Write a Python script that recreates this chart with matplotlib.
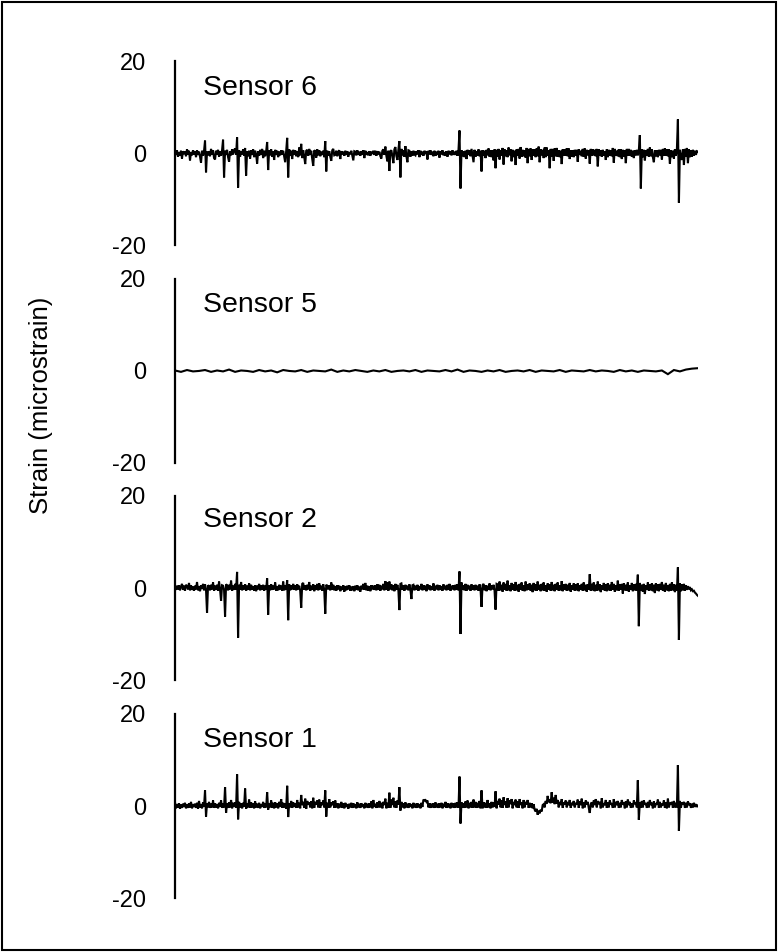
import matplotlib
matplotlib.use("Agg")
import matplotlib.pyplot as plt
from matplotlib.patches import Rectangle
import numpy as np

plt.rcParams['font.family'] = ['Liberation Sans', 'DejaVu Sans']

# strain records (microstrain), one sample list per sensor
sensor6 = [
    0.3, -0.4, 0.6, -0.8, 0.2, -0.6, 0.5, -1.2, 0.4, -0.2, 0.3, -0.7, 0.8, -0.3, 0.5, -1.6, 0.2, -0.5, 0.6, -0.3,
    0.4, -0.9, 0.6, -0.4, 0.3, -0.8, -2.1, 0.5, -0.6, 0.4, 2.7, -4.2, 0.3, -0.5, 0.4, -0.7, 0.9, -0.3, 0.6, -1.1,
    -1.4, 0.5, -0.3, 0.7, -0.8, 0.4, -0.6, 0.6, 2.9, -5.3, 0.5, -0.4, 0.7, -0.9, -1.9, 0.4, -0.5, 0.8, -0.3, 0.6,
    1.0, -0.4, 3.4, -7.5, 0.6, -0.8, 0.4, -0.3, 0.8, -0.6, 1.1, -4.9, 0.4, -0.7, 0.5, -1.2, 0.6, -0.4, 0.8, -0.9,
    0.5, -0.3, -2.3, 0.4, -0.6, 0.7, -0.4, 0.9, -1.1, 0.5, -0.7, 0.3, 2.4, -3.7, 0.6, -0.5, 0.8, -0.8, 0.4, -1.5,
    0.7, -0.4, 0.5, -0.9, 0.3, -0.5, 0.6, -0.3, 0.5, -0.8, -2.0, 0.4, 3.3, -5.3, 0.8, -0.6, 0.5, -1.3, 0.7, -0.4,
    0.6, -0.7, 0.4, -0.9, 1.2, -0.5, 2.0, -1.1, 0.6, -0.8, -2.4, 0.5, 0.7, -0.6, 0.9, -0.4, 0.5, -1.3, -2.8, 0.6,
    0.4, -1.0, 0.8, -0.5, 0.6, -0.7, 0.3, -0.4, 0.5, -0.9, 2.6, -4.0, 0.5, -0.6, 0.4, -0.8, -1.7, 0.6, 0.9, -0.5,
    -0.4, 0.5, -0.7, 0.3, 0.6, -1.3, 0.4, -0.3, 0.3, -0.6, 0.5, -0.4, 0.4, -0.8, 0.2, -0.3, 0.5, -0.6, -1.6, 0.4,
    0.3, -0.5, 0.6, -0.4, 0.3, -0.6, 0.4, -0.3, 0.6, -1.1, 0.5, -0.4, 0.2, -0.5, 0.4, -0.6, 0.3, -0.2, 0.5, -0.4,
    0.5, -0.6, 0.4, -0.3, 0.3, -0.7, -1.2, 0.5, 0.8, -0.4, 1.4, -0.6, -1.8, 0.5, -3.9, 0.4, 0.6, -0.7, -2.2, 0.8,
    1.3, -0.6, -1.5, 0.7, 2.6, -5.3, 0.9, -0.5, 0.6, -0.8, 1.5, -0.7, -2.0, 0.6, 0.5, -0.8, 0.4, -0.6, 0.5, -0.3,
    -0.5, 0.4, -0.3, 0.6, -0.9, 0.5, -0.4, 0.3, -0.6, 0.5, -0.2, 0.4, -1.4, 0.5, -0.3, 0.6, -0.4, 0.3, -0.7, 0.5,
    -0.6, 0.3, -0.4, 0.5, -1.0, 0.4, -0.3, 0.6, -0.5, 0.2, -0.6, 0.4, -0.8, 0.5, -0.3, 0.4, -0.5, 0.6, -0.4, 0.3,
    -0.4, 0.5, -0.6, 0.7, 4.9, -7.7, 0.6, -0.7, 0.4, -0.9, 0.5, -1.3, 0.7, -0.4, 0.6, -0.7, 0.9, -0.5, -2.0, 0.7,
    -0.8, 0.4, -0.6, 0.8, -0.7, 0.5, -4.0, 0.6, -0.6, 0.5, -1.1, 0.7, -0.5, 1.0, -0.8, 0.6, -0.9, 0.6, -1.6, 0.8,
    -3.3, 0.7, -0.8, 0.9, -1.4, 0.6, -0.6, 1.1, -2.5, 0.8, -0.7, 0.6, -0.9, 1.2, -0.5, 0.8, -1.8, 0.7, -0.9, 0.5,
    -2.6, 0.8, -0.6, 0.9, -1.2, 1.3, -0.8, 0.7, -0.7, 0.6, -1.0, 1.1, -2.2, 0.9, -0.7, 1.0, -1.5, 0.8, -0.6, 0.8,
    -0.9, 1.0, -0.7, 1.4, -2.0, 0.8, -0.5, 0.7, -1.1, 1.2, -0.9, 1.2, -0.6, 0.6, -3.3, 0.9, -0.8, 0.9, -1.7, 1.0,
    -0.7, 1.1, -0.8, 0.6, -0.9, 0.5, -2.4, 0.8, -0.5, 0.8, -0.6, 1.0, -0.7, 1.0, -1.3, 0.6, -0.8, 0.6, -0.9, 0.7,
    -0.6, 0.7, -1.9, 0.8, -0.4, 0.5, -0.7, 0.9, -0.8, 1.0, -1.2, 0.7, -0.5, 0.6, -2.3, 0.9, -0.6, 0.8, -0.5, 0.7,
    -0.7, 0.9, -2.9, 0.8, -0.5, 0.6, -0.8, 0.7, -0.6, 0.4, -1.5, 0.8, -0.9, 0.7, -0.6, 0.6, -0.7, 1.1, -2.1, 0.9,
    -0.6, 0.5, -0.7, 0.8, -0.9, 0.8, -1.3, 0.7, -0.8, 0.6, -2.2, 0.9, -0.6, 0.9, -0.6, 0.7, -0.8, 0.5, -1.1, 0.6,
    -0.5, 0.7, -0.5, 0.6, 3.9, -7.7, 0.8, -0.9, 0.7, -1.6, 0.6, -0.6, 0.9, -0.8, 1.2, -0.7, 0.8, -0.9, -2.0, 0.6,
    -0.7, 0.6, -0.9, 0.7, -0.5, 0.7, -1.4, 0.9, -0.6, 1.0, -0.6, 0.8, -0.7, 0.8, -2.3, 0.6, -0.9, 0.5, -1.2, 0.8,
    -0.6, 0.9, 7.3, -10.8, 0.7, -0.8, -1.5, 0.8, -2.6, 0.9, -0.7, 1.1, -2.2, 0.8, -0.9, 0.6, -0.8, 0.7, -0.6, 0.5,
    -0.4, 0.4, 0.3,
]

sensor5 = [
    0.1, -0.2, 0.2, -0.1, 0.0, 0.2, -0.2, 0.1, -0.1, 0.3,
    -0.2, 0.1, 0.0, -0.2, 0.2, -0.1, 0.1, -0.3, 0.2, 0.0,
    -0.1, 0.2, -0.2, 0.1, 0.0, -0.1, 0.3, -0.2, 0.1, -0.1,
    0.2, 0.0, -0.2, 0.1, -0.1, 0.2, -0.2, 0.0, 0.1, -0.1,
    0.2, -0.2, 0.1, 0.0, -0.1, 0.2, -0.1, 0.3, -0.2, 0.1,
    0.0, -0.2, 0.1, -0.1, 0.2, -0.2, 0.0, 0.1, -0.1, 0.2,
    -0.2, 0.1, 0.0, -0.1, 0.2, -0.2, 0.1, 0.0, -0.1, 0.2,
    -0.1, 0.1, 0.0, -0.2, 0.2, -0.1, 0.1, -0.2, 0.1, 0.0,
    -0.1, 0.1, -0.7, 0.2, -0.1, 0.3, 0.5, 0.6,
]

sensor2 = [
    0.2, -0.4, 0.5, -0.3, 0.6, -0.5, 0.3, 0.9, -0.4, 0.5, -0.6, 0.7, 0.4, -0.3, 1.1, -0.5, 0.6, -0.4, 0.3, -0.6,
    0.5, -0.3, 1.3, -0.5, 0.4, -0.7, 0.6, -0.2, 0.9, -0.5, 0.8, -0.4, -5.4, 0.6, 0.4, -0.5, 0.7, -0.3, 1.2, -0.6,
    0.5, -0.4, 0.7, -0.6, 1.4, -0.3, -2.8, 0.6, 0.5, -0.4, -6.2, 0.8, 0.6, -0.5, 0.7, -0.3, 1.6, -0.6, 0.5, -0.4,
    0.9, -0.3, 3.5, -10.8, 0.7, -0.4, 1.3, -0.5, 0.6, -0.3, 0.8, -0.6, 0.5, -0.4, 1.0, -0.5, 0.7, -0.3, 0.4, -0.6,
    0.6, -0.7, 0.5, -0.3, 0.9, -0.5, 0.6, -0.4, 0.7, -0.6, 0.5, -0.3, 2.1, -5.8, 0.6, -0.5, 0.8, -0.4, 0.5, -0.3,
    1.2, -0.6, 0.4, -0.5, 0.7, -0.3, 0.5, -0.6, 1.4, -0.5, 0.6, -0.4, 1.7, -7.0, 0.8, -0.5, 0.6, -0.3, 0.9, -0.4,
    0.6, -0.5, 0.8, -0.3, 0.5, -0.6, -4.3, 0.9, 1.1, -0.4, 0.6, -0.5, 0.7, -0.3, 1.3, -0.6, 0.5, -0.4, 0.8, -0.7,
    0.6, -0.4, 0.9, -0.5, 1.0, -0.3, 0.5, -0.6, 0.8, -0.4, -5.6, 0.7, 0.5, -0.3, 0.6, -0.5, 1.2, -0.4, 0.7, -0.5,
    0.4, -0.6, 0.6, -0.3, 0.5, -0.7, 0.3, -0.4, 0.6, -0.8, 0.4, -0.5, 0.5, -0.3, 0.6, -0.6, 0.3, -0.5, 0.4, -0.7,
    0.5, -0.4, 0.6, -0.5, 0.3, -0.8, 0.5, -0.3, 0.9, -0.4, 1.1, -0.5, 0.5, -0.6, 0.4, -0.7, 0.6, -0.3, 0.5, -0.4,
    0.6, -0.5, 0.8, -0.4, 0.7, -0.6, 0.5, -0.3, 0.9, -0.5, 1.5, -0.4, 1.2, -0.6, 1.4, -0.3, 0.8, -0.5, 0.6, -0.7,
    0.9, -0.4, 0.7, -0.5, -4.8, 0.9, 1.0, -0.4, 0.6, -0.6, 0.7, -0.3, 0.5, -0.5, 0.8, -0.4, -2.4, 0.6, 0.7, -0.5,
    0.5, -0.4, 0.7, -0.6, 0.4, -0.3, 0.9, -0.5, 0.6, -0.4, 0.5, -0.7, 0.8, -0.3, 0.6, -0.5, 0.4, -0.4, 1.0, -0.6,
    0.5, -0.3, 0.7, -0.5, 0.6, -0.4, 0.4, -0.6, 0.8, -0.3, 0.5, -0.5, 0.7, -0.4, 0.9, -0.6, 0.5, -0.3, 0.6, -0.5,
    0.7, -0.4, 0.8, -0.5, 3.6, -10.0, 1.2, -0.4, 0.6, -0.5, 0.9, -0.6, 0.7, -0.3, 0.5, -0.6, 0.8, -0.4, 0.6, -0.5,
    0.7, -0.4, 0.5, -0.6, 0.8, -0.3, -4.1, 0.6, 0.9, -0.5, 0.6, -0.7, 0.5, -0.4, 1.0, -0.5, 0.6, -0.3, 0.7, -0.6,
    -4.7, 0.9, 0.8, -0.6, 1.4, -0.5, 0.7, -0.8, 1.2, -0.4, 0.9, -0.6, 1.6, -0.5, 0.6, -0.7, 1.1, -0.4, 0.8, -0.6,
    1.3, -0.5, 0.7, -0.8, 0.9, -0.4, 1.2, -0.6, 0.6, -0.7, 1.4, -0.5, 0.8, -0.4, 1.0, -0.6, 0.7, -0.9, 1.1, -0.5,
    0.8, -0.6, 1.4, -0.4, 0.7, -0.7, 0.9, -0.5, 1.2, -0.6, 0.6, -0.8, 1.0, -0.4, 0.8, -0.6, 1.3, -0.5, 0.7, -0.7,
    0.9, -0.4, 1.2, -0.6, 0.6, -0.5, 1.5, -0.7, 0.8, -0.4, 0.9, -0.6, 0.7, -0.5, 1.1, -0.8, 0.6, -0.4, 1.0, -0.6,
    0.8, -0.5, 1.0, -0.7, 0.6, -0.4, 0.9, -0.6, 1.2, -0.5, 0.7, -0.8, 0.8, -0.4, 3.0, -0.6, 0.9, -0.5, 1.2, -0.7,
    0.7, -0.6, 1.4, -0.5, 0.8, -0.9, 0.6, -0.4, 1.1, -0.6, 0.8, -0.7, 1.0, -0.5, 0.7, -0.6, 1.3, -0.4, 0.9, -0.8,
    0.6, -0.5, 1.6, -0.6, 0.8, -0.4, 0.9, -1.2, 1.0, -0.5, 0.7, -0.6, 1.2, -0.8, 0.6, -0.4, 1.1, -0.7, 0.8, -0.5,
    0.9, -0.6, 2.9, -8.3, 1.1, -0.5, 0.7, -0.8, 0.9, -1.3, 0.6, -0.4, 1.2, -0.6, 0.8, -0.5, 1.0, -0.7, 0.7, -1.1,
    1.0, -0.5, 0.8, -0.7, 0.9, -0.4, 1.3, -0.6, 0.7, -0.8, 1.1, -0.5, 0.6, -0.7, 0.9, -0.6, 1.2, -0.5, 0.8, -0.9,
    0.7, -0.6, 4.5, -11.3, 1.0, -0.7, 0.8, -0.5, 0.9, -0.6, 0.6, -0.4, 0.4, -0.3, 0.2, -0.5, -0.3, -0.7, -0.6, -1.0,
    -1.2, -1.5, -1.7,
]

sensor1 = [
    0.8, -0.5, 0.4, -0.3, 0.6, -0.6, 0.3, -0.4, 0.5, -0.2, 0.7, -0.5, 0.3, -0.4, 0.6, -0.3, 0.9, -0.5, 0.4, -0.2,
    0.5, -0.4, 0.7, -0.6, 1.1, -0.3, 0.4, -0.5, 0.8, -0.2, 3.4, -2.3, 0.6, -0.3, 0.9, -0.4, 0.5, -0.3, 1.2, -0.4,
    0.6, -0.3, 0.4, -0.5, 0.7, -0.2, 1.2, -0.4, 0.5, -0.3, 4.1, -1.5, 0.6, -0.4, 0.8, -0.3, 1.3, -0.5, 0.7, -0.2,
    0.8, -0.4, 6.9, -2.9, 0.9, -0.3, 0.6, -0.5, 0.7, -0.2, 3.8, -0.6, 0.5, -0.3, 1.4, -0.4, 0.8, -0.3, 0.6, -0.5,
    1.0, -0.3, 0.5, -0.4, 0.7, -0.5, 0.4, -0.2, 0.9, -0.4, 0.6, -0.3, 3.0, -0.8, 0.5, -0.3, 1.2, -0.4, 0.7, -0.5,
    0.8, -0.3, 0.6, -0.5, 0.9, -0.2, 1.5, -0.4, 0.7, -0.3, 0.5, -0.6, 4.4, -2.4, 0.6, -0.3, 1.1, -0.4, 0.8, -0.2,
    0.6, -0.4, 1.3, -0.3, 0.7, -0.5, 2.4, 0.2, 0.9, -0.4, 1.6, -0.6, 1.1, 0.3, 0.8, -0.3, 1.0, -0.5, 1.8, -0.4,
    0.9, 0.3, 1.2, -0.3, 1.4, -0.4, 0.8, 0.2, 1.2, -0.3, 3.4, -2.3, 0.7, -0.4, 1.5, -0.3, 0.8, 0.2, 1.0, -0.4,
    1.2, -0.3, 0.6, -0.5, 0.5, -0.3, 0.9, -0.4, 0.6, -0.5, 0.7, -0.2, 0.4, -0.6, 0.5, -0.3, 0.7, -0.4, 0.6, -0.3,
    0.4, -0.5, 0.8, -0.3, 0.5, -0.4, 0.6, -0.2, 0.4, -0.5, 0.7, -0.3, 0.5, -0.4, 0.6, -0.3, 1.0, -0.5, 1.3, -0.2,
    0.5, -0.4, 0.8, -0.3, 1.1, -0.3, 0.7, -0.5, 0.9, 0.2, 1.6, -0.5, 0.7, -0.4, 2.9, -0.4, 1.4, 0.2, 1.8, -0.3,
    1.0, -0.4, 1.2, 0.3, 4.1, -1.0, 0.9, -0.3, 0.6, -0.5, 0.8, -0.3, 0.5, -0.4, 0.6, -0.2, 0.4, -0.5, 0.7, -0.3,
    0.5, -0.4, 0.6, -0.3, 0.4, -0.5, 0.7, -0.2, 1.4, 1.2, 1.3, 0.9, 1.2, -0.3, 0.6, -0.4, 0.5, -0.3, 0.6, -0.4,
    0.8, -0.3, 0.5, -0.4, 0.6, -0.3, 0.7, -0.5, 0.5, -0.2, 0.9, -0.4, 0.6, -0.3, 0.5, -0.5, 0.7, -0.3, 0.6, -0.4,
    0.7, -0.3, 0.8, -0.4, 6.4, -3.8, 0.8, -0.3, 0.6, -0.4, 1.0, -0.3, 1.2, -0.5, 0.7, -0.3, 0.9, -0.4, 1.4, -0.3,
    0.9, -0.4, 0.7, -0.3, 1.1, -0.5, 3.4, -0.5, 0.8, -0.3, 0.7, -0.4, 1.3, -0.3, 0.6, -0.5, 0.9, -0.3, 0.8, -0.2,
    3.2, -0.5, 1.1, 0.3, 1.6, -0.3, 1.2, -0.4, 1.9, 0.2, 1.0, -0.4, 1.7, -0.3, 1.2, 0.4, 1.5, -0.5, 0.9, 0.2,
    1.4, -0.3, 1.0, -0.4, 1.5, 0.2, 0.8, -0.5, 1.3, -0.3, 0.9, 0.3, 1.3, -0.4, 0.7, -0.3, 0.6, -0.5, 0.4, -0.8,
    -1.2, -0.6, -1.9, -1.0, -1.6, -0.8, -1.2, 0.2, 0.4, -0.3, 1.1, 0.5, 2.2, 0.8, 1.4, 0.6, 3.0, 0.7, 1.8, 0.4,
    2.4, 0.5, 1.3, -0.3, 0.9, 0.2, 1.5, -0.4, 0.8, 0.3, 1.2, -0.3, 0.6, 0.4, 1.3, -0.4, 0.7, 0.2, 1.1, -0.3,
    0.7, 0.3, 1.4, -0.4, 1.0, 0.2, 1.6, -0.5, 0.8, -0.3, 1.2, 0.3, 0.9, -0.4, -1.5, 0.4, 0.8, -0.3, 1.2, 0.2,
    1.5, -0.3, 1.1, 0.4, 0.9, -0.5, 1.7, -0.3, 0.6, 0.2, 1.3, -0.4, 0.8, -0.3, 1.2, 0.3, 0.6, -0.4, 1.5, -0.3,
    0.9, 0.2, 1.1, -0.4, 0.7, -0.3, 1.3, 0.3, 0.8, -0.5, 1.0, -0.3, 1.4, 0.2, 0.9, -0.4, 0.6, -0.3, 1.2, 0.4,
    0.8, -0.3, 5.6, -3.0, 0.8, -0.4, 1.1, -0.3, 1.2, 0.3, 0.6, -0.4, 0.9, -0.3, 1.3, 0.2, 0.7, -0.5, 1.0, -0.3,
    0.6, 0.3, 1.4, -0.4, 0.9, -0.3, 0.5, 0.2, 1.2, -0.4, 0.8, -0.5, 1.6, -0.3, 0.7, 0.3, 0.9, -0.4, 1.1, -0.3,
    0.7, -0.3, 8.9, -5.4, 1.1, -0.4, 0.8, 0.3, 0.9, -0.4, 0.7, -0.3, 1.0, 0.2, 0.6, -0.4, 0.5, -0.3, 0.7, -0.2,
    0.4, -0.2, 0.1,
]

names = ["Sensor 6", "Sensor 5", "Sensor 2", "Sensor 1"]
records = [sensor6, sensor5, sensor2, sensor1]
yticks = [-20, 0, 20]
ytick_labels = ["-20", "0", "20"]
duration = 261.0

fig = plt.figure(figsize=(7.78, 9.52), dpi=100)

# panel bottoms in figure fraction, top to bottom
bottoms = [0.7426, 0.5137, 0.2857, 0.0567]
label_y = [0.853, 0.859, 0.870, 0.859]

for name, rec, b, ly in zip(names, records, bottoms, label_y):
    ax = fig.add_axes([0.2249, b, 0.6722, 0.1933])
    t = np.linspace(0, duration, len(rec))
    ax.plot(t, rec, color="black", lw=1.5, solid_joinstyle="miter")
    ax.set_xlim(0, duration)
    ax.set_ylim(-20, 20)
    ax.set_yticks(yticks)
    ax.set_yticklabels(ytick_labels)
    ax.set_xticks([])
    ax.tick_params(axis="y", length=0, pad=21, labelsize=17)
    for s in ["top", "right", "bottom"]:
        ax.spines[s].set_visible(False)
    ax.spines["left"].set_linewidth(1.6)
    ax.patch.set_visible(False)
    ax.text(0.0535, ly, name, transform=ax.transAxes, fontsize=20.5,
            va="center", ha="left")

fig.text(0.053, 0.5746, "Strain (microstrain)", rotation=90,
         fontsize=18.5, ha="center", va="center")

fig.patches.append(Rectangle((0.002, 0.002), 0.996, 0.996, transform=fig.transFigure,
                             fill=False, edgecolor="black", lw=1.5))

fig.savefig("out.png", dpi=100)
